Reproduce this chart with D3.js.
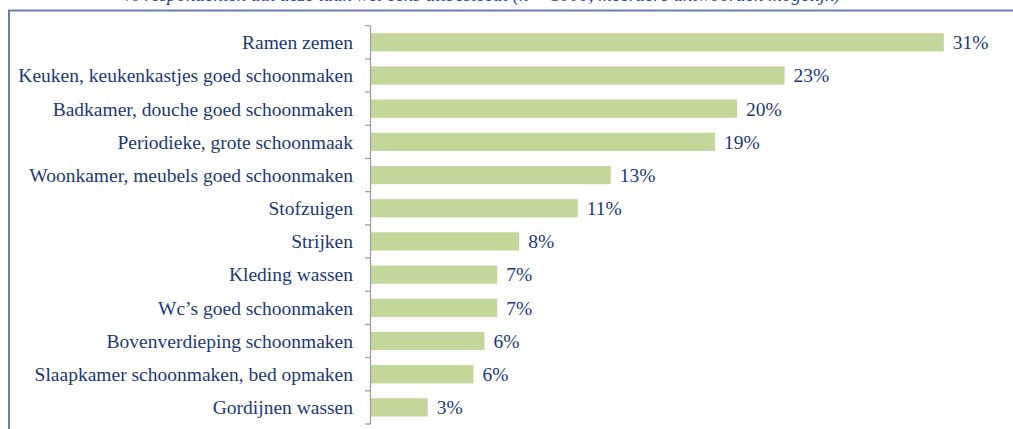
<!DOCTYPE html>
<html>
<head>
<meta charset="utf-8">
<script src="https://cdn.jsdelivr.net/npm/d3@7"></script>
<style>
  html, body { margin: 0; padding: 0; background: #fff; }
  svg { display: block; }
</style>
</head>
<body>
<svg width="1013" height="429"></svg>
<script>
const categories = [
  "Ramen zemen",
  "Keuken, keukenkastjes goed schoonmaken",
  "Badkamer, douche goed schoonmaken",
  "Periodieke, grote schoonmaak",
  "Woonkamer, meubels goed schoonmaken",
  "Stofzuigen",
  "Strijken",
  "Kleding wassen",
  "Wc\u2019s goed schoonmaken",
  "Bovenverdieping schoonmaken",
  "Slaapkamer schoonmaken, bed opmaken",
  "Gordijnen wassen"
];
const values = [31.3, 22.6, 20.0, 18.8, 13.1, 11.3, 8.1, 6.9, 6.9, 6.2, 5.6, 3.1];
const valueLabels = ["31%", "23%", "20%", "19%", "13%", "11%", "8%", "7%", "7%", "6%", "6%", "3%"];
const title = "% respondenten dat deze taak wel eens uitbesteedt (n = 1000, meerdere antwoorden mogelijk)";

const svg = d3.select("svg");
const font = "Liberation Serif";
const textColor = "#1b3978";

// frame (cut off at right and bottom)
svg.append("path")
    .attr("d", "M9,429 V10.5 H1013")
    .attr("fill", "none")
    .attr("stroke", "#6a7fb0")
    .attr("stroke-width", 2);

// title above the frame, only its lower part is in view
svg.append("text")
    .attr("x", 482)
    .attr("y", 1)
    .attr("text-anchor", "middle")
    .attr("font-family", font)
    .attr("font-style", "italic")
    .attr("font-size", 19)
    .attr("fill", "#2a4a9a")
    .text(title);

const x = d3.scaleLinear()
    .domain([0, 35])
    .range([371, 371 + 35 * 18.3]);

const y = d3.scaleBand()
    .domain(categories)
    .range([25.7, 424])
    .paddingInner(0.45)
    .paddingOuter(0.225);

// bars
svg.append("g")
  .selectAll("rect")
  .data(values)
  .join("rect")
    .attr("x", x(0))
    .attr("y", (d, i) => y(categories[i]))
    .attr("width", d => x(d) - x(0))
    .attr("height", y.bandwidth())
    .attr("fill", "#c4d79b");

// axis line with ticks between categories
const axis = svg.append("g").attr("stroke", "#a0a0a0").attr("stroke-width", 1.3);
axis.append("line")
    .attr("x1", 370.5).attr("x2", 370.5)
    .attr("y1", 25.7).attr("y2", 424);
const step = y.step();
axis.selectAll("line.tick")
  .data(d3.range(categories.length + 1))
  .join("line")
    .attr("class", "tick")
    .attr("x1", 365).attr("x2", 370.5)
    .attr("y1", i => 25.7 + i * step)
    .attr("y2", i => 25.7 + i * step);

// category labels
svg.append("g")
  .selectAll("text")
  .data(categories)
  .join("text")
    .attr("x", 353)
    .attr("y", d => y(d) + y.bandwidth() / 2)
    .attr("dy", "0.35em")
    .attr("text-anchor", "end")
    .attr("font-family", font)
    .attr("font-size", 19.5)
    .attr("fill", textColor)
    .text(d => d);

// value labels
svg.append("g")
  .selectAll("text")
  .data(values)
  .join("text")
    .attr("x", d => x(d) + 9)
    .attr("y", (d, i) => y(categories[i]) + y.bandwidth() / 2)
    .attr("dy", "0.35em")
    .attr("font-family", font)
    .attr("font-size", 19.5)
    .attr("fill", textColor)
    .text((d, i) => valueLabels[i]);
</script>
</body>
</html>
